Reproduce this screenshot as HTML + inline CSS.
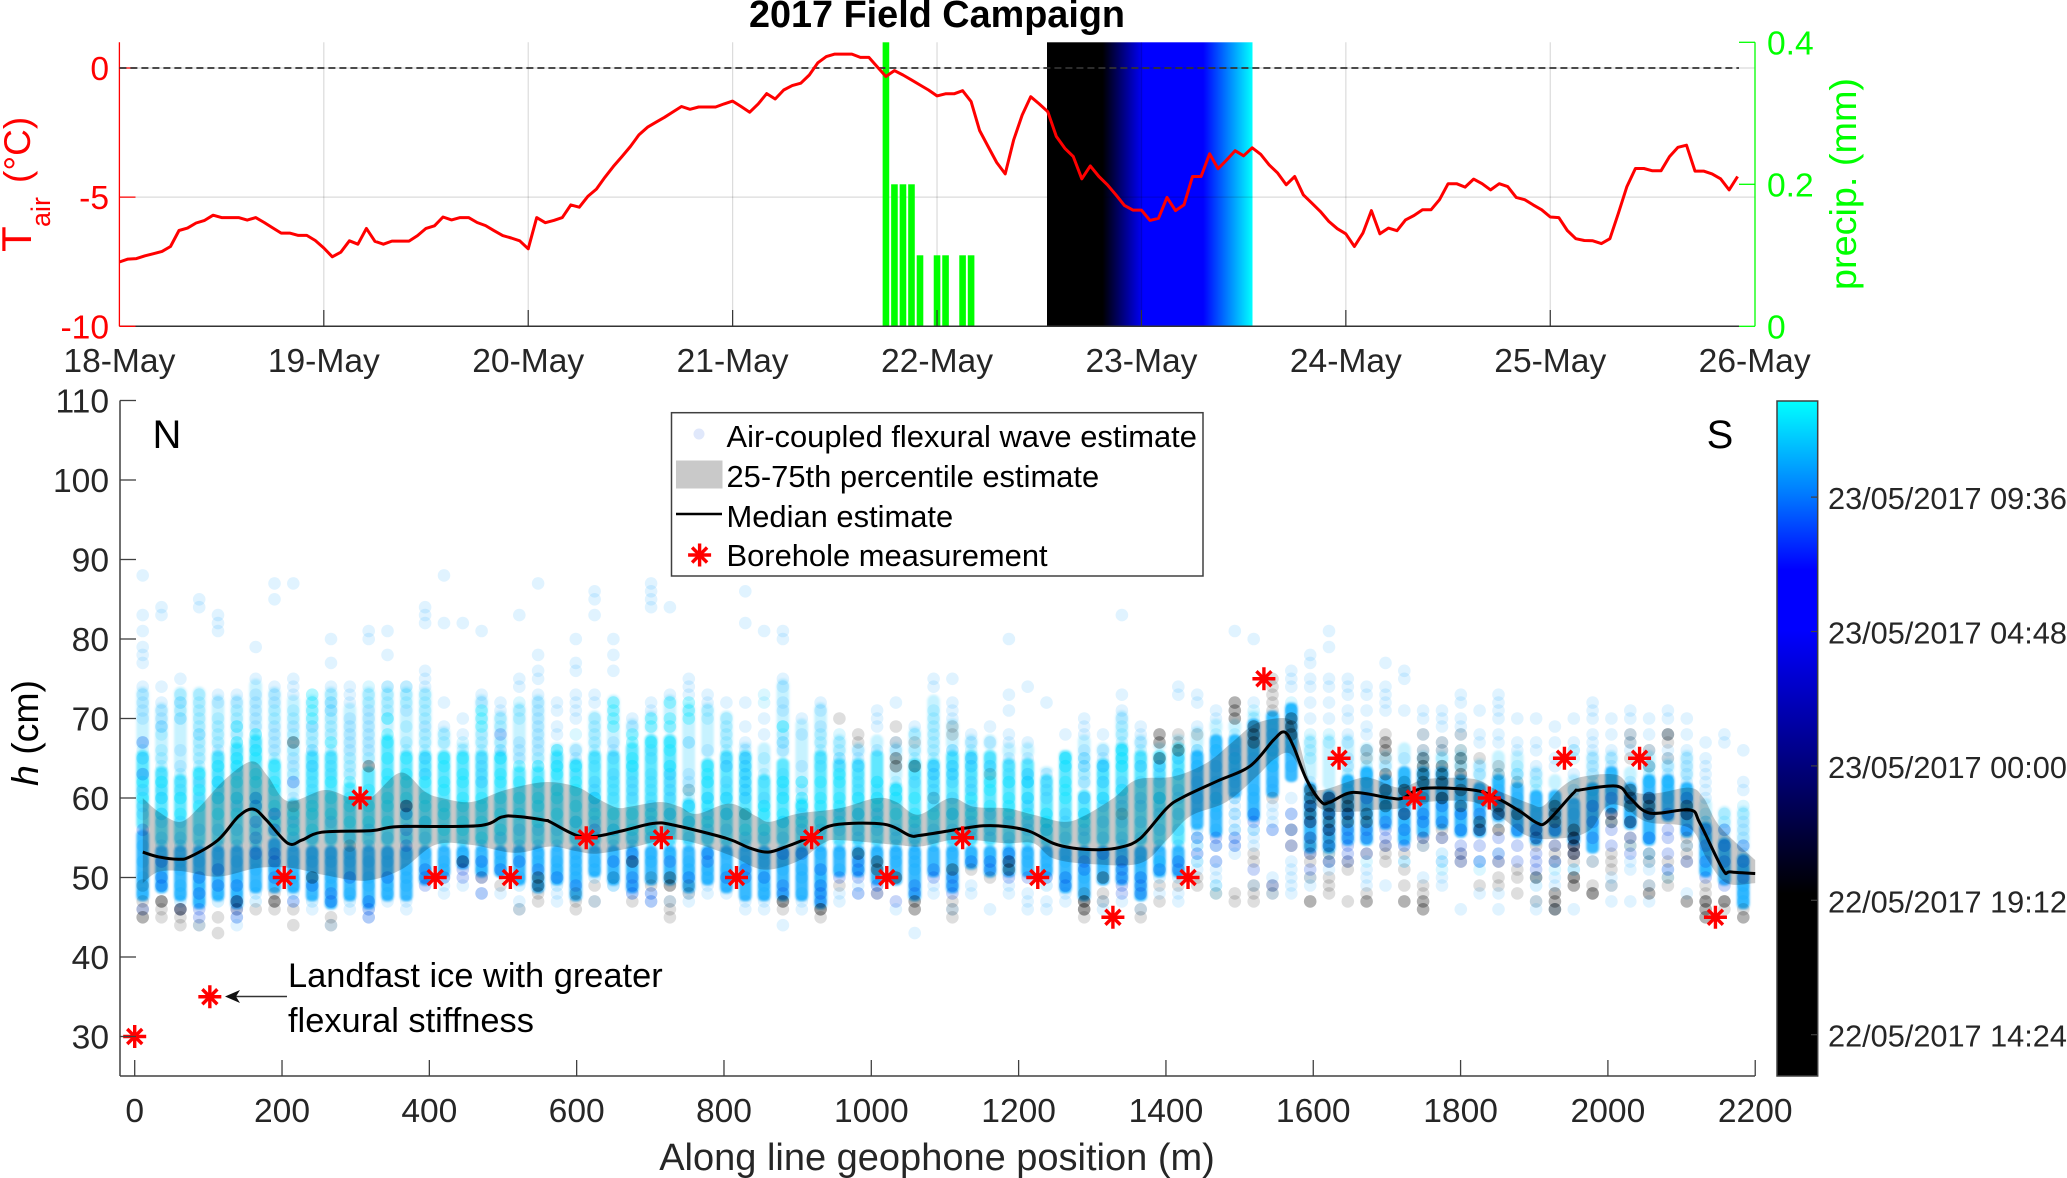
<!DOCTYPE html>
<html lang="en">
<head>
<meta charset="utf-8">
<title>2017 Field Campaign</title>
<style>
html,body{margin:0;padding:0;background:#fff;}
svg{display:block;font-family:"Liberation Sans",Arial,sans-serif;}
</style>
</head>
<body>
<svg id="figure" xmlns="http://www.w3.org/2000/svg" width="2067" height="1178" viewBox="0 0 2067 1178">
<defs>
<linearGradient id="stripGrad" x1="0" x2="1" y1="0" y2="0">
<stop offset="0" stop-color="#000"/><stop offset=".27" stop-color="#000"/><stop offset=".47" stop-color="#00f"/><stop offset=".76" stop-color="#00f"/><stop offset=".88" stop-color="#0080ff"/><stop offset="1" stop-color="#0ff"/>
</linearGradient>
<linearGradient id="barGrad" x1="0" x2="0" y1="1" y2="0">
<stop offset="0" stop-color="#000"/><stop offset=".27" stop-color="#000"/><stop offset=".66" stop-color="#00f"/><stop offset=".75" stop-color="#00f"/><stop offset=".86" stop-color="#0078ff"/><stop offset="1" stop-color="#0ff"/>
</linearGradient>
<filter id="soft" x="-5%" y="-5%" width="110%" height="110%"><feGaussianBlur stdDeviation="1"/></filter>
</defs>
<text x="937" y="27" text-anchor="middle" font-size="37.8" font-weight="bold" fill="#000">2017 Field Campaign</text>
<rect x="1047" y="42.3" width="205.5" height="284" fill="url(#stripGrad)"/>
<g id="topGrid"></g>
<g id="precipBars"></g>
<g id="topAxes"></g>
<line x1="119.4" x2="1739" y1="68" y2="68" stroke="#333" stroke-width="1.8" stroke-dasharray="7 4"/>
<polyline id="tairLine" fill="none" stroke="#ff0000" stroke-width="3" stroke-linejoin="round"/>
<text transform="translate(31,252) rotate(-90)" font-size="42" fill="#ff0000">T</text>
<text transform="translate(50,227) rotate(-90)" font-size="27" fill="#ff0000">air</text>
<text transform="translate(30,183) rotate(-90)" font-size="37" fill="#ff0000">(°C)</text>
<text transform="translate(1856,290) rotate(-90)" font-size="37" fill="#00ff00" textLength="212" lengthAdjust="spacingAndGlyphs">precip. (mm)</text>

<g id="cores" filter="url(#soft)"></g>
<g id="dots"></g>
<path id="iqrBand" fill="#000" fill-opacity=".215"/>
<path id="medianLine" fill="none" stroke="#000" stroke-width="3" stroke-linejoin="round"/>
<g id="stars"></g>
<g id="bottomAxes"></g>

<text x="167" y="448" text-anchor="middle" font-size="40" fill="#000">N</text>
<text x="1720" y="448" text-anchor="middle" font-size="40" fill="#000">S</text>
<text transform="translate(38,786) rotate(-90)" font-size="37" fill="#000" textLength="106" lengthAdjust="spacingAndGlyphs"><tspan font-style="italic">h</tspan> (cm)</text>
<text x="937" y="1170" text-anchor="middle" font-size="38" fill="#262626">Along line geophone position (m)</text>

<g>
<text x="288" y="987" font-size="34.4" fill="#000">Landfast ice with greater</text>
<text x="288" y="1032" font-size="34.4" fill="#000">flexural stiffness</text>
<line x1="287" x2="232" y1="996.5" y2="996.5" stroke="#333" stroke-width="1.6"/>
<path d="M225 996.5 L240 990 L236 996.5 L240 1003 Z" fill="#111"/>
</g>

<g id="legendGroup">
<rect x="671.5" y="412.7" width="531.5" height="163.3" fill="#fff" stroke="#404040" stroke-width="1.5"/>
<circle cx="699" cy="434" r="5.5" fill="#e0e8fb"/>
<rect x="676" y="460.5" width="46.5" height="28" fill="#c9c9c9"/>
<line x1="676" x2="722" y1="514" y2="514" stroke="#000" stroke-width="2.6"/>
<g id="legendStar"></g>
<text x="726.5" y="447" font-size="30.9" fill="#000">Air-coupled flexural wave estimate</text>
<text x="726.5" y="487" font-size="30.9" fill="#000">25-75th percentile estimate</text>
<text x="726.5" y="527" font-size="30.9" fill="#000">Median estimate</text>
<text x="726.5" y="566" font-size="30.9" fill="#000">Borehole measurement</text>
</g>

<rect x="1777" y="401" width="40.7" height="675" fill="url(#barGrad)" stroke="#404040" stroke-width="1.5"/>
<g id="cbTicks"></g>
</svg>
<script>
const dayLabels=['18-May','19-May','20-May','21-May','22-May','23-May','24-May','25-May','26-May'];
const tairTicks=[0,-5,-10];
const precipTicks=[0,0.2,0.4];
const precipHours=[90,91,92,93,94,96,97,99,100];
const precipValues=[0.42,0.2,0.2,0.2,0.1,0.1,0.1,0.1,0.1];
const tairValues=[-7.51,-7.4,-7.38,-7.27,-7.19,-7.1,-6.91,-6.29,-6.2,-6.0,
-5.9,-5.7,-5.79,-5.79,-5.79,-5.89,-5.79,-5.98,-6.19,-6.39,
-6.39,-6.48,-6.48,-6.68,-6.97,-7.31,-7.13,-6.69,-6.82,-6.21,
-6.71,-6.82,-6.7,-6.7,-6.7,-6.49,-6.21,-6.11,-5.77,-5.88,
-5.79,-5.79,-5.98,-6.1,-6.3,-6.49,-6.58,-6.69,-7.0,-5.79,
-5.99,-5.9,-5.79,-5.3,-5.39,-4.97,-4.69,-4.23,-3.81,-3.43,
-3.04,-2.59,-2.29,-2.1,-1.91,-1.7,-1.49,-1.6,-1.51,-1.51,
-1.51,-1.39,-1.28,-1.49,-1.71,-1.39,-.99,-1.2,-.85,-.68,
-.59,-.27,.2,.44,.54,.54,.54,.41,.41,.04,
-.33,-.1,-.27,-.46,-.66,-.85,-1.08,-1,-1,-.88,
-1.3,-2.42,-3.04,-3.66,-4.1,-2.78,-1.82,-1.11,-1.39,-1.69,
-2.65,-3.11,-3.43,-4.29,-3.79,-4.2,-4.52,-4.91,-5.32,-5.5,
-5.5,-5.9,-5.82,-5.01,-5.52,-5.3,-4.2,-4.2,-3.32,-3.9,
-3.56,-3.2,-3.4,-3.09,-3.34,-3.75,-4.07,-4.52,-4.2,-4.91,
-5.23,-5.55,-5.94,-6.22,-6.42,-6.91,-6.39,-5.52,-6.42,-6.2,
-6.3,-5.88,-5.71,-5.49,-5.49,-5.1,-4.48,-4.48,-4.61,-4.3,
-4.48,-4.72,-4.48,-4.59,-5.01,-5.1,-5.3,-5.49,-5.77,-5.79,
-6.29,-6.61,-6.68,-6.69,-6.8,-6.61,-5.62,-4.59,-3.89,-3.89,
-3.98,-3.98,-3.43,-3.07,-2.99,-3.99,-3.99,-4.1,-4.29,-4.72,-4.2];

const hTicks=[30,40,50,60,70,80,90,100,110];
const posTicks=[0,200,400,600,800,1000,1200,1400,1600,1800,2000,2200];
const colorbarLabels=['22/05/2017 14:24','22/05/2017 19:12','23/05/2017 00:00','23/05/2017 04:48','23/05/2017 09:36'];
const colorbarHours=[14.4,19.2,24,28.8,33.6];
const boreholePos=[0,102,203,306,408,510,613,715,817,919,1021,1124,1226,1328,1430,1533,1635,1737,1839,1941,2043,2146];
const boreholeH=[30,35,50,60,50,50,55,55,50,55,50,55,50,45,50,75,65,60,60,65,65,45];
const medianPos=[11,32,59,75,113,141,161,179,208,227,254,322,358,466,498,516,557,564,600,627,663,704,731,804,835,860,885,917,949,1017,1052,1066,1107,1120,1152,1184,1215,1247,1274,1310,1338,1365,1401,1423,1469,1514,1546,1561,1573,1591,1611,1623,1654,1704,1722,1749,1817,1849,1881,1903,1917,1953,1962,2012,2030,2057,2111,2125,2156,2166,2200];
const medianH=[53.2,52.6,52.3,52.6,54.7,57.7,58.6,57.2,54.3,54.7,55.7,55.9,56.4,56.5,57.6,57.7,57.2,57,55.3,55.2,55.9,56.8,56.6,54.9,53.7,53.2,53.9,55.1,56.6,56.7,55.3,55.3,55.9,56.1,56.5,56.4,55.8,54.3,53.7,53.5,53.8,54.9,58.7,60.1,62.1,64,67.3,68.3,66.5,62.3,59.5,59.5,60.7,60,60,61.2,61,60,58.3,56.9,57,60.6,61,61.5,60,58.1,58.5,56.8,51,50.7,50.5];
const upperPos=[11,32,62,89,122,159,181,208,258,294,320,361,394,417,457,503,557,600,627,654,672,713,740,763,808,844,862,899,957,1007,1034,1064,1107,1139,1184,1220,1261,1288,1329,1360,1410,1455,1491,1523,1564,1577,1596,1611,1663,1682,1718,1754,1817,1849,1894,1912,1935,1962,2012,2035,2066,2111,2130,2152,2200];
const upperH=[60,58.3,57,59,62.3,64.6,62.7,59.6,61,60,60,63.2,60.8,60,59.5,61,62,61.4,60,58.8,58.9,59.5,58.9,58,59.3,57.7,57,58,58.7,60,59.5,57.9,60,58.9,58.7,57.9,57,57.7,60,62.3,62.7,64.4,67.1,69.4,70,68.3,61.9,61,62.5,62.4,61.3,62.4,62.4,61,59.3,59,61.2,62.6,62.9,60.8,60.6,61.3,60,56.4,52.2];
const lowerPos=[11,32,64,113,167,213,258,313,362,408,457,516,564,600,627,672,718,754,808,853,899,935,957,1034,1066,1107,1139,1184,1220,1247,1297,1365,1401,1433,1482,1523,1546,1568,1587,1609,1663,1682,1718,1754,1817,1853,1894,1944,1976,1998,2021,2053,2111,2134,2161,2200];
const lowerH=[49.3,50.7,50.8,50.1,51.2,51.2,50.3,49.6,51,54.1,54.1,53.1,53.9,53.3,53,53.7,54.7,54.5,52.8,51,52,54.3,54.7,54.1,53.9,54.7,54.7,54.3,54.3,52.4,51.7,51.8,54.7,57.7,59.5,62.7,64.8,65.6,62.7,58.7,58.3,58.5,58.7,59.5,59.5,57.7,55.1,55,56,58.9,58.9,57,56.2,52.4,49.3,49.3];

const coreBottom=[47,48,47,46,47,46,48,48,48,47,46,47,46,47,47,49,50,51,50,50,49,48,49,47,50,49,48,49,49,48,49,48,47,47,47,47,46,50,50,49,49,47,50,48,51,50,50,50,50,48,47,49,49,47,50,50,56,55,60,57,60,62,53,53,54,54,56,54,55,56,55,55,57,55,54,55,54,53,58,56,54,57,55,50,49,46];
const coreSplit=[56,54,54,54,54,54,54,55,54,54,54,54,54,54,54,54,54,54,54,54,54,54,54,54,54,54,54,54,54,54,54,54,54,54,54,54,54,54,54,54,54,54,54,54,54,54,54,54,54,54,54,54,54,54,54,54,66,68,68,70,71,72,62,61,63,64,63,64,64,64,63,62,63,62,61,61,60,62,64,62,63,63,62,57,55,53];
const coreTop=[66,64,63,64,66,67,68,65,60,66,66,62,64,68,66,66,66,66,66,66,64,64,66,65,66,66,67,68,68,60,65,66,66,63,65,60,66,65,65,66,62,65,65,66,66,66,65,65,63,66,61,65,67,66,66,67,66,68,68,70,71,72,62,61,63,64,63,64,64,64,63,62,63,62,61,61,60,62,64,62,63,63,62,57,55,53];
const fadeTop=[74,72,74,74,73,73,75,74,73,73,74,72,74,74,74,74,69,67,73,71,72,73,67,67,71,73,70,71,73,72,72,71,67,67,75,70,72,68,67,68,67,69,73,70,68,68,67,67,64,66,68,67,71,68,67,68,69,70,70,71,71,72,68,68,68,67,66,67,66,66,66,65,66,66,64,63,63,66,66,64,66,65,66,60,59,59];

const paleH=[[88,83,81,79,78,77,74,73,72,71,70,67],[84,83,74,72,71,70,69],[75,72,70,66,64],[85,84,68,62,60,44],[83,82,81,73,72,66,62,60],[73,72,69,60,59,45,44],[79,75,73,72,71,70,69],[87,85,74,73,72,69,68,67,66],[87,75,74,73,69,65,64,62,60,47],[69,66,64,46],
[80,77,74,72,71,47,44],[74,73,72,70,69,68,67,66,46],[81,80,71,70,69,68,67,66,46,45],[81,78,74,47],[74,71,47,46],[84,83,82,76,75,74,69,65,63],[88,82,72,69,49,48],[82,70,68,49],[81,73,72,65,64,63,62,48],[72,71,66,48],
[83,75,74,67,66,65,47,46],[87,78,76,75,73,72,71,70,69,68,67,66,49],[72,71,69,68,48,47],[80,77,76,73,72,71,70,66,65],[86,85,83,73,72,59,47],[80,78,76,67,66,65,63,50,49],[70,69,62,61,60,48],[87,86,85,84,72,71,48,47],[84,73,63,62,47],[75,74,73,67,63,62,48,47],
[73,72,66,49,48],[72,64,62,49,48],[86,82,72,69,67,66,65,47,46],[81,70,68,60,47,46],[81,80,75,74,72,71,67,66,44],[70,68,64,47,46],[72,71,69,48],[65,64,48,47],[66,65,64,49,48],[71,70,69,49],
[72,67,66,46],[69,62,43],[75,74,64,63,60,59,49,48],[75,72,71,70,46],[68,67,65,49,48],[69,67,64,46],[80,73,71,68,67,65,49,48],[74,67,65,48,47,46],[72,63,62,61,60,47,46],[68,49,48,47],
[70,69,68,66,60],[68,66,65,64,47,46],[83,73,71,70,62,61,60,47],[69,68,67,46],[64,63,48],[74,73,48,47],[73,72,69,55,54,53,52,51],[71,70,52,51,50,49],[81,66,60,59,58,57,56,55,54,53],[80,72,65,56,55,54,49],
[62,61,59,58,57,56,50,48],[76,75,74,71,64,60,58,56,52,51,50,49,48],[78,77,75,74,72,70,62,59,50,49],[81,79,75,74,72,70,56,55,52,51],[75,74,73,71,70,68,67,65,64],[74,73,71,69,68,66,51,50,49],[77,74,73,72,71,64,61,49],[76,75,71,65,62,54,52],[71,70,68,66,65,54,50],[71,70,69,67,66,60,52,50,49],
[73,72,70,69,68,61,58,56,46],[71,68,67,64,57,52,48],[73,72,71,70,68,67,48,46],[70,67,66,63,57],[70,67,66,64,63,60,55,47,46],[69,67,65,64,52,50,49,46],[70,67,66,63,51,46],[72,71,70,68,67,66,65,64,63,58,52],[70,68,66,65,64,50,49,47],[71,70,68,67,66,52,51,47],
[70,68,66,64,55,53,51,49,47],[71,70,68,66,65,64,63,51],[70,68,66,65,64,63,62,48],[67,65,64,63,62,61,60],[68,67,55,54],[66,62,61,57,56,55,54,53]];
const lightH=[[66,65,63],[68,66,65,64,63,62,61],[73,72,71,70,63,62,61,60],[73,72,71,70,69,68,67,66,65,64],[70,69,68,67,65,64,63,62,61],[71,70,68,67,66,65,64,63],[68,67,66],[71,70,65],[71,70,68,67,66,63],[69,68,67,66,65,64,63,62,61,60],
[73,72,71,70,69,68,66,65,64,63],[65,64,63],[74,73,72,65],[74,73,72,71,70],[74,73,72,69,67,66],[73,72,71,70,68,67,66,65,64,63],[68,67],[67,66],[68,67,66,62],[70,69,67,66,65],
[72,71,70],[65,64],[66,65,64],[68,64,63],[70,69,68,67,66,65,64,60],[62,61,60],[64,63],[66,65,63,62,61,60],[64,63],[67,61,60],
[71,70,62],[70,69,68,67,66,61],[64,63,62,61,60],[73,72,65,63,62,59],[69,68,67,63,62,61,60],[62,61,60,59],[68,67,66,65,64],[68,67,66,65],[64,63,62,61,60],[62,61,60],
[62,61,60],[68,66,65,64,63],[71,70,69,68,67,66,65],[66,65,64,63],[66,64,63],[65,64],[64,63,62],[63,62],[58,57],[65,64],
[65,64,63],[64,63,62],[69,68,67,66,65,64],[66,65,64],[60,59,52,51],[65,64,63],[66,65,64,55,54,52],[68,67,66,60,59,49,48],[68,67,65,64],[71,70,66],
[70,69,67,66,65,64],[72,71,67],[68,67,66,65],[68,67,54,53],[63,62,61],[64,63,62,52],[60,59],[63,62,52],[64,63,62],[65,64,63,51],
[66,65,64,62],[52,51],[63,62,53],[64,63,62],[62,61,59],[60,59,51],[66,65,51],[62,61,60],[63,62],[60,59,54],
[64,63,62],[62,61,50],[61,60,59,58],[58,57],[58,57],[59,58]];
const aquaH=[[62,60],[62,60,58],[60,58],[63,61,59],[64,62,60,58],[69,67,65,64,62,60,58],[68,66,65,63,62,60,59],[64,62,61,59,57],[58,56],[73,72,71,70,59,58,56],
[67,62,60,58],[62,60,59,57],[61,59,57],[70,68,67,65,63,62,60,59,57],[65,63,62,60,58],[62,60,59,57],[65,64,62,61,59,58,56],[65,63,62,60,59,57,56],[71,70,69,60,59,57,55],[65,63,62,60,58,56],
[64,62,60,58],[64,62,60,59,57],[66,64,63,61,60,58],[64,62,61,59,57],[60,58],[72,71,70,69,58,56],[68,67,65,64,58,56],[70,69,67,58,56],[72,70,69,67,66,64,58],[72,71,70,59,57],
[64,63,62,60,59,57],[60,58],[58,56],[59,58,56],[69,62,60,58,57],[62,60,59,57],[62,60,59,57],[63,62,60,59,57],[60,58],[62,60,59,57],
[61,60,58],[60,58,57],[58],[58],[60,58],[62,61,59],[62,60,59,58],[62,60,58],[58,57,56],[65,64,62,61,60],
[58,57],[60],[66,65,64,61],[],[60]];
const skyH=[[65,61,59,58,54,52,50,49,48],[69,60,58,57,55,54,52,50,49],[57,55,54,52,51,49,48,47],[56,54,52,50,49,48,47],[56,54,53,51,49,48,47],[56,54,52,50,49,48],[56,54,52,51,49,48,47],[58,56,54,52,51,50],[57,55,54,52,50,49,48],[55,53,52,50,49,47],
[57,55,53,52,50,49],[55,53,52,50,48,47],[56,54,52,50,49,47],[55,53,52,50,49,48],[55,53,51,50,49],[57,55,53,51,50],[54,52,51,50],[54,53,52],[54,52,51],[55,53,52,51],
[56,54,52,50,49],[56,54,53,52],[56,54,52,51,50,49],[57,55,53,52,51,50],[62,61,60,57,55,54,52,51,50],[56,54,52,50,49],[55,54],[59,57,55,53,52],[61,60,58,56,54,53],[59,57,55,54,52,51,50],
[60,58,56,55,53,51,50],[65,64,60,58,56,54,53,51,50],[65,64,63,62,61,60,55,54,52,51],[55,53,52,50,49,48],[57,55,53,52,51],[58,56,54,53,51,50,48],[56,54,53,51,50,49],[58,56,54,53,51],[58,56,55,54,53,51],[66,58,56,54,53],
[56,55,54,53,52],[56,55,54,53,52,51],[64,63,62,61,56,55,54],[66,64,63,62,60,58,56,55,54,53],[65,64,62,61,59,57,56,55,53,52],[58,56,55,53,52],[57,55,54,53],[63,62,60,59,57,56,54,53,52],[56,54,53,52,51,50,49],[58,57,55,53,52,50],
[65,64,62,60,58,56,55,53,51,50],[64,62,60,59,57,55,53,52],[59,57,55,54,52],[64,62,60,59,57,55,53,52,50],[65,64,62,60,58,56,54,52,50],[65,63,61,60,58,56,54,52,50],[66,64,62,60,58,56],[66,64,62,60,58,56,54],[65,63,62,60,58,56],[61,60,58,56],
[68,66,64],[70,68,66],[60,58],[60,58],[62,61,59,58],[63,62,60,58],[60,59,58],[62,60,59,57,56,55],[60,58,57],[62,60,59,57,53,52],
[60,58,56],[63,61,59],[61,59,57],[60,58,56],[58,56,50,49],[58,56],[61,60,58],[61,59,57],[61,59,57],[62,60,58],
[62,60,58,55,53,52],[62,60,58],[60,58,56,54],[57,55,53,51],[56,54,52],[52,51,49,48,47]];
const royalH=[[67,63,56,46],[52,50,49],[46],[50,48,46,45],[51,49],[49,47,46,45],[60,59,57,55,53],[58,56,53,52,50],[62,47],[49],
[48,47],[50],[47,46,45],[50],[59,58,56,54],[51,50,49],[50],[52,51,50],[52,50,48],[68,51],
[52],[51],[50],[49],[56],[52],[53,52,50,49,48],[48,47],[52],[50],
[53,52],[50],[51,50],[50],[53,49,48],[53],[51,49,48,47],[50],[52,51,50,48],[49,48],
[47],[49,48],[51,50],[50,49,48],[52],[52,51],[53,52,50],[50],[50],[50,49],
[52,51],[53],[52,51,50,49,48],[50,49,48],[51],[52,51],[55,53],[55,54,52],[55,54],[58,57,51],
[56,49],[58,56,54],[59,57,55,53,51],[60,58,56,54,52],[58,56,55,54,53,52],[60,56,55,53],[57,56,55,54],[58,56,54],[58,57,55],[59,57,55],
[58,56,54,53,52],[58,56,54,52],[60,58,55,53,52],[56,54,52],[56,55,53,52,51],[56,54,52],[55,54,53],[59,57,55],[60,58,56,54],[60,57,55,53],
[60,58,55],[58,56,55,53,51],[60,58,56,52],[56,54,52,50],[56,54,52,49],[54,52,50]];
const ashH=[[49,47,46],[47,46,45],[46,45,44],[44],[45,43],[46],[46],[48,47,46],[59,46,44],[],
[45,44],[54],[],[],[],[],[],[],[50],[49],
[46],[48,47],[],[48,47,46],[49,47],[50],[47],[50,49],[47,46,45],[61,49,48],
[],[],[58],[],[47,46],[],[46,45],[70,49],[68,67],[48],
[69,67],[67],[60],[69,68,47,46,45],[51],[63,50],[],[],[],[],
[48,47,46,45],[48,47],[58],[46,45],[49,47],[68,67,49],[68,50,49],[48],[48,47],[53,52,49,48,47],
[75,74,73,72,71,60,49,48],[56,54],[55,54,53,52,50],[55,54,53,52,50,49,48],[52,51,47],[66,65,53,48],[68,65,54,53,52],[62,61,53,51,49],[68,66,60,55,54,49,48],[67,66,60,56,55],
[68,66,64,53,52],[65,60,49],[64,63,52,50,49],[62,51,50,48],[56,55,54,47],[54,53,52,46],[55,54,53,52,50],[52,49,48],[53,52,51,49],[68,67,65,55,54],
[66,64,53,52,49],[67,65,52,50,49],[55,54,53,52],[49,48,47],[47,46],[46]];
const sootH=[[45],[47],[46],[],[],[47],[],[47],[67],[50],
[],[],[64],[],[59],[],[],[52],[],[],
[],[50,49],[],[],[],[],[52],[],[50,49],[],
[],[],[],[],[47],[],[46],[],[53],[52,51],
[65,64,50],[64,47,46],[],[51],[],[],[52,51],[],[],[],
[47,46],[50],[],[],[68,67,65],[66],[],[],[72,71,70],[69,68,67],
[],[70,69,68],[61,60,59,58,57,47],[60,59,58,57,56],[60,59,58,57],[58,57,47],[67,66,63,61,59],[61,58,47],[65,64,63,62,47,46],[64,63,62,60],
[65,63,61,59],[57,56],[59,58,56],[58],[50],[59,58,57,48,47,46],[56,55,54,53,50,49],[48],[58,57],[61,60,59,57],
[60,59,58,48],[68],[59,58,47],[47,46,45],[47],[45]];

const NS='http://www.w3.org/2000/svg';
function mk(parent,tag,attrs,txt){
  const el=document.createElementNS(NS,tag);
  for(const k in attrs) el.setAttribute(k,attrs[k]);
  if(txt!==undefined) el.textContent=txt;
  parent.appendChild(el);
  return el;
}
const hourX=h=>119.4+h*8.517;
const tempY=t=>68-t*25.83;
const precipY=p=>326.3-p*710;
const posX=m=>134.7+m*0.7366;
const hY=h=>400.5+(110-h)*7.95;
const colX=c=>142.7+c*18.83;
const cbY=hr=>1034.7-(hr-14.4)*28;
function smooth(pts,start){
  let d=(start?'M':'L')+pts[0][0].toFixed(1)+' '+pts[0][1].toFixed(1);
  for(let i=0;i<pts.length-1;i++){
    const p0=pts[Math.max(0,i-1)],p1=pts[i],p2=pts[i+1],p3=pts[Math.min(pts.length-1,i+2)];
    const c1x=p1[0]+(p2[0]-p0[0])/6,c1y=p1[1]+(p2[1]-p0[1])/6;
    const c2x=p2[0]-(p3[0]-p1[0])/6,c2y=p2[1]-(p3[1]-p1[1])/6;
    d+=' C'+c1x.toFixed(1)+' '+c1y.toFixed(1)+' '+c2x.toFixed(1)+' '+c2y.toFixed(1)+' '+p2[0].toFixed(1)+' '+p2[1].toFixed(1);
  }
  return d;
}

const topGrid=document.getElementById('topGrid');
dayLabels.forEach((d,i)=>{
  if(i===0||i===8) return;
  const g=mk(topGrid,'line',{x1:hourX(i*24),x2:hourX(i*24),y1:42.3,y2:326,stroke:'#000','stroke-opacity':.14,'stroke-width':1.2});
  
  
});
tairTicks.slice(0,2).forEach(t=>{
  const g=mk(topGrid,'line',{x1:119.4,x2:1755,y1:tempY(t),y2:tempY(t),stroke:'#000','stroke-opacity':.14,'stroke-width':1.2});
  
  
});

const barsG=document.getElementById('precipBars');
precipHours.forEach((h,i)=>{
  const y=Math.max(42.3,precipY(precipValues[i]));
  const b=mk(barsG,'rect',{x:hourX(h)-3.3,width:6.6,y:y,height:326.3-y,fill:'#00ff00'});
  
  
});

const topAxes=document.getElementById('topAxes');
const ax1=mk(topAxes,'line',{x1:119.4,x2:1739,y1:326.3,y2:326.3,stroke:'#333','stroke-width':1.5});


const ax2=mk(topAxes,'line',{x1:119.4,x2:119.4,y1:42.3,y2:326.3,stroke:'#ff0000','stroke-width':1.3});


const ax3=mk(topAxes,'line',{x1:1755,x2:1755,y1:42.3,y2:326.3,stroke:'#00ff00','stroke-width':1.3});


dayLabels.forEach((d,i)=>{
  const x=hourX(i*24);
  if(i>0&&i<8){
    const t=mk(topAxes,'line',{x1:x,x2:x,y1:310,y2:326,stroke:'#333','stroke-width':1.2});
    
    
  }
  const l=mk(topAxes,'text',{x:x,y:372,'text-anchor':'middle','font-size':33.6,fill:'#262626'},d);
  
  
});
tairTicks.forEach(t=>{
  const y=tempY(t);
  const tk=mk(topAxes,'line',{x1:119.4,x2:135.5,y1:y,y2:y,stroke:'#ff0000','stroke-width':1.3});
  
  
  const l=mk(topAxes,'text',{x:109,y:y+12,'text-anchor':'end','font-size':33.6,fill:'#ff0000'},t);
  
  
});
precipTicks.forEach(p=>{
  const y=precipY(p);
  const tk=mk(topAxes,'line',{x1:1739,x2:1755,y1:y,y2:y,stroke:'#00ff00','stroke-width':1.3});
  
  
  const l=mk(topAxes,'text',{x:1767,y:y+12,'font-size':33.6,fill:'#00ff00'},p);
  
  
});
document.getElementById('tairLine').setAttribute('points',tairValues.map((t,h)=>hourX(h).toFixed(1)+','+tempY(t).toFixed(1)).join(' '));

const cores=document.getElementById('cores');
coreBottom.forEach((b,c)=>{
  const x=colX(c)-6.3;
  const f=mk(cores,'rect',{x:x,width:12.6,y:hY(fadeTop[c]),height:Math.max(0,hY(coreTop[c])-hY(fadeTop[c])),rx:6.3,fill:'#00c4ff','fill-opacity':.22});
  
  
  const a=mk(cores,'rect',{x:x,width:12.6,y:hY(coreTop[c]),height:Math.max(0,hY(coreSplit[c])-hY(coreTop[c])),rx:5,fill:'#00d8ff','fill-opacity':.62});
  
  
  const s=mk(cores,'rect',{x:x,width:12.6,y:hY(coreSplit[c]),height:Math.max(0,hY(b)-hY(coreSplit[c])),rx:5,fill:'#00a6ff','fill-opacity':.78});
  
  
});

const dotBands=[
 {data:paleH,fill:'#0099ff',op:.12,name:'pale-estimate'},
 {data:lightH,fill:'#00c8ff',op:.14,name:'light-estimate'},
 {data:aquaH,fill:'#00e4ff',op:.3,name:'aqua-estimate'},
 {data:skyH,fill:'#00a8ff',op:.16,name:'sky-estimate'},
 {data:royalH,fill:'#0040e0',op:.22,name:'royal-estimate'},
 {data:ashH,fill:'#000000',op:.13,name:'ash-estimate'},
 {data:sootH,fill:'#000000',op:.3,name:'soot-estimate'}
];
const dots=document.getElementById('dots');
dotBands.forEach(b=>{
  const g=mk(dots,'g',{fill:b.fill,'fill-opacity':b.op});
  
  
  b.data.forEach((list,c)=>{
    list.forEach(h=>{
      const d=mk(g,'circle',{cx:colX(c).toFixed(1),cy:hY(h).toFixed(1),r:6.3});
      
      
    });
  });
});

const upPts=upperPos.map((m,i)=>[posX(m),hY(upperH[i])]);
const loPts=lowerPos.map((m,i)=>[posX(m),hY(lowerH[i])]).reverse();
document.getElementById('iqrBand').setAttribute('d',smooth(upPts,true)+' '+smooth(loPts,false)+' Z');
document.getElementById('medianLine').setAttribute('d',smooth(medianPos.map((m,i)=>[posX(m),hY(medianH[i])]),true));

function star(parent,cx,cy,name){
  const g=mk(parent,'g',{stroke:'#ff0000','stroke-width':3.4});
  
  
  mk(g,'line',{x1:cx-11.5,x2:cx+11.5,y1:cy,y2:cy});
  mk(g,'line',{x1:cx,x2:cx,y1:cy-11.5,y2:cy+11.5});
  mk(g,'line',{x1:cx-7.5,x2:cx+7.5,y1:cy-7.5,y2:cy+7.5});
  mk(g,'line',{x1:cx-7.5,x2:cx+7.5,y1:cy+7.5,y2:cy-7.5});
}
const starsG=document.getElementById('stars');
boreholePos.forEach((m,i)=>star(starsG,posX(m),hY(boreholeH[i]),'borehole-marker'));
star(document.getElementById('legendStar'),699.6,555,'legend-star-marker');

const botAxes=document.getElementById('bottomAxes');
const bx=mk(botAxes,'line',{x1:120,x2:1755,y1:1076,y2:1076,stroke:'#404040','stroke-width':1.5});


const by=mk(botAxes,'line',{x1:120,x2:120,y1:400.5,y2:1076,stroke:'#404040','stroke-width':1.5});


hTicks.forEach(h=>{
  const y=hY(h);
  const t=mk(botAxes,'line',{x1:120,x2:136,y1:y,y2:y,stroke:'#404040','stroke-width':1.3});
  
  
  const l=mk(botAxes,'text',{x:109,y:y+12,'text-anchor':'end','font-size':33.6,fill:'#262626'},h);
  
  
});
posTicks.forEach(m=>{
  const x=posX(m);
  const t=mk(botAxes,'line',{x1:x,x2:x,y1:1060,y2:1076,stroke:'#404040','stroke-width':1.3});
  
  
  const l=mk(botAxes,'text',{x:x,y:1122,'text-anchor':'middle','font-size':33.6,fill:'#262626'},m);
  
  
});
const cb=document.getElementById('cbTicks');
colorbarLabels.forEach((s,i)=>{
  const y=cbY(colorbarHours[i]);
  const t=mk(cb,'line',{x1:1811,x2:1817.7,y1:y,y2:y,stroke:'#404040','stroke-width':1.2});
  
  
  const l=mk(cb,'text',{x:1828,y:y+12,'font-size':30.7,fill:'#262626'},s);
  
  
});
</script>
</body>
</html>
